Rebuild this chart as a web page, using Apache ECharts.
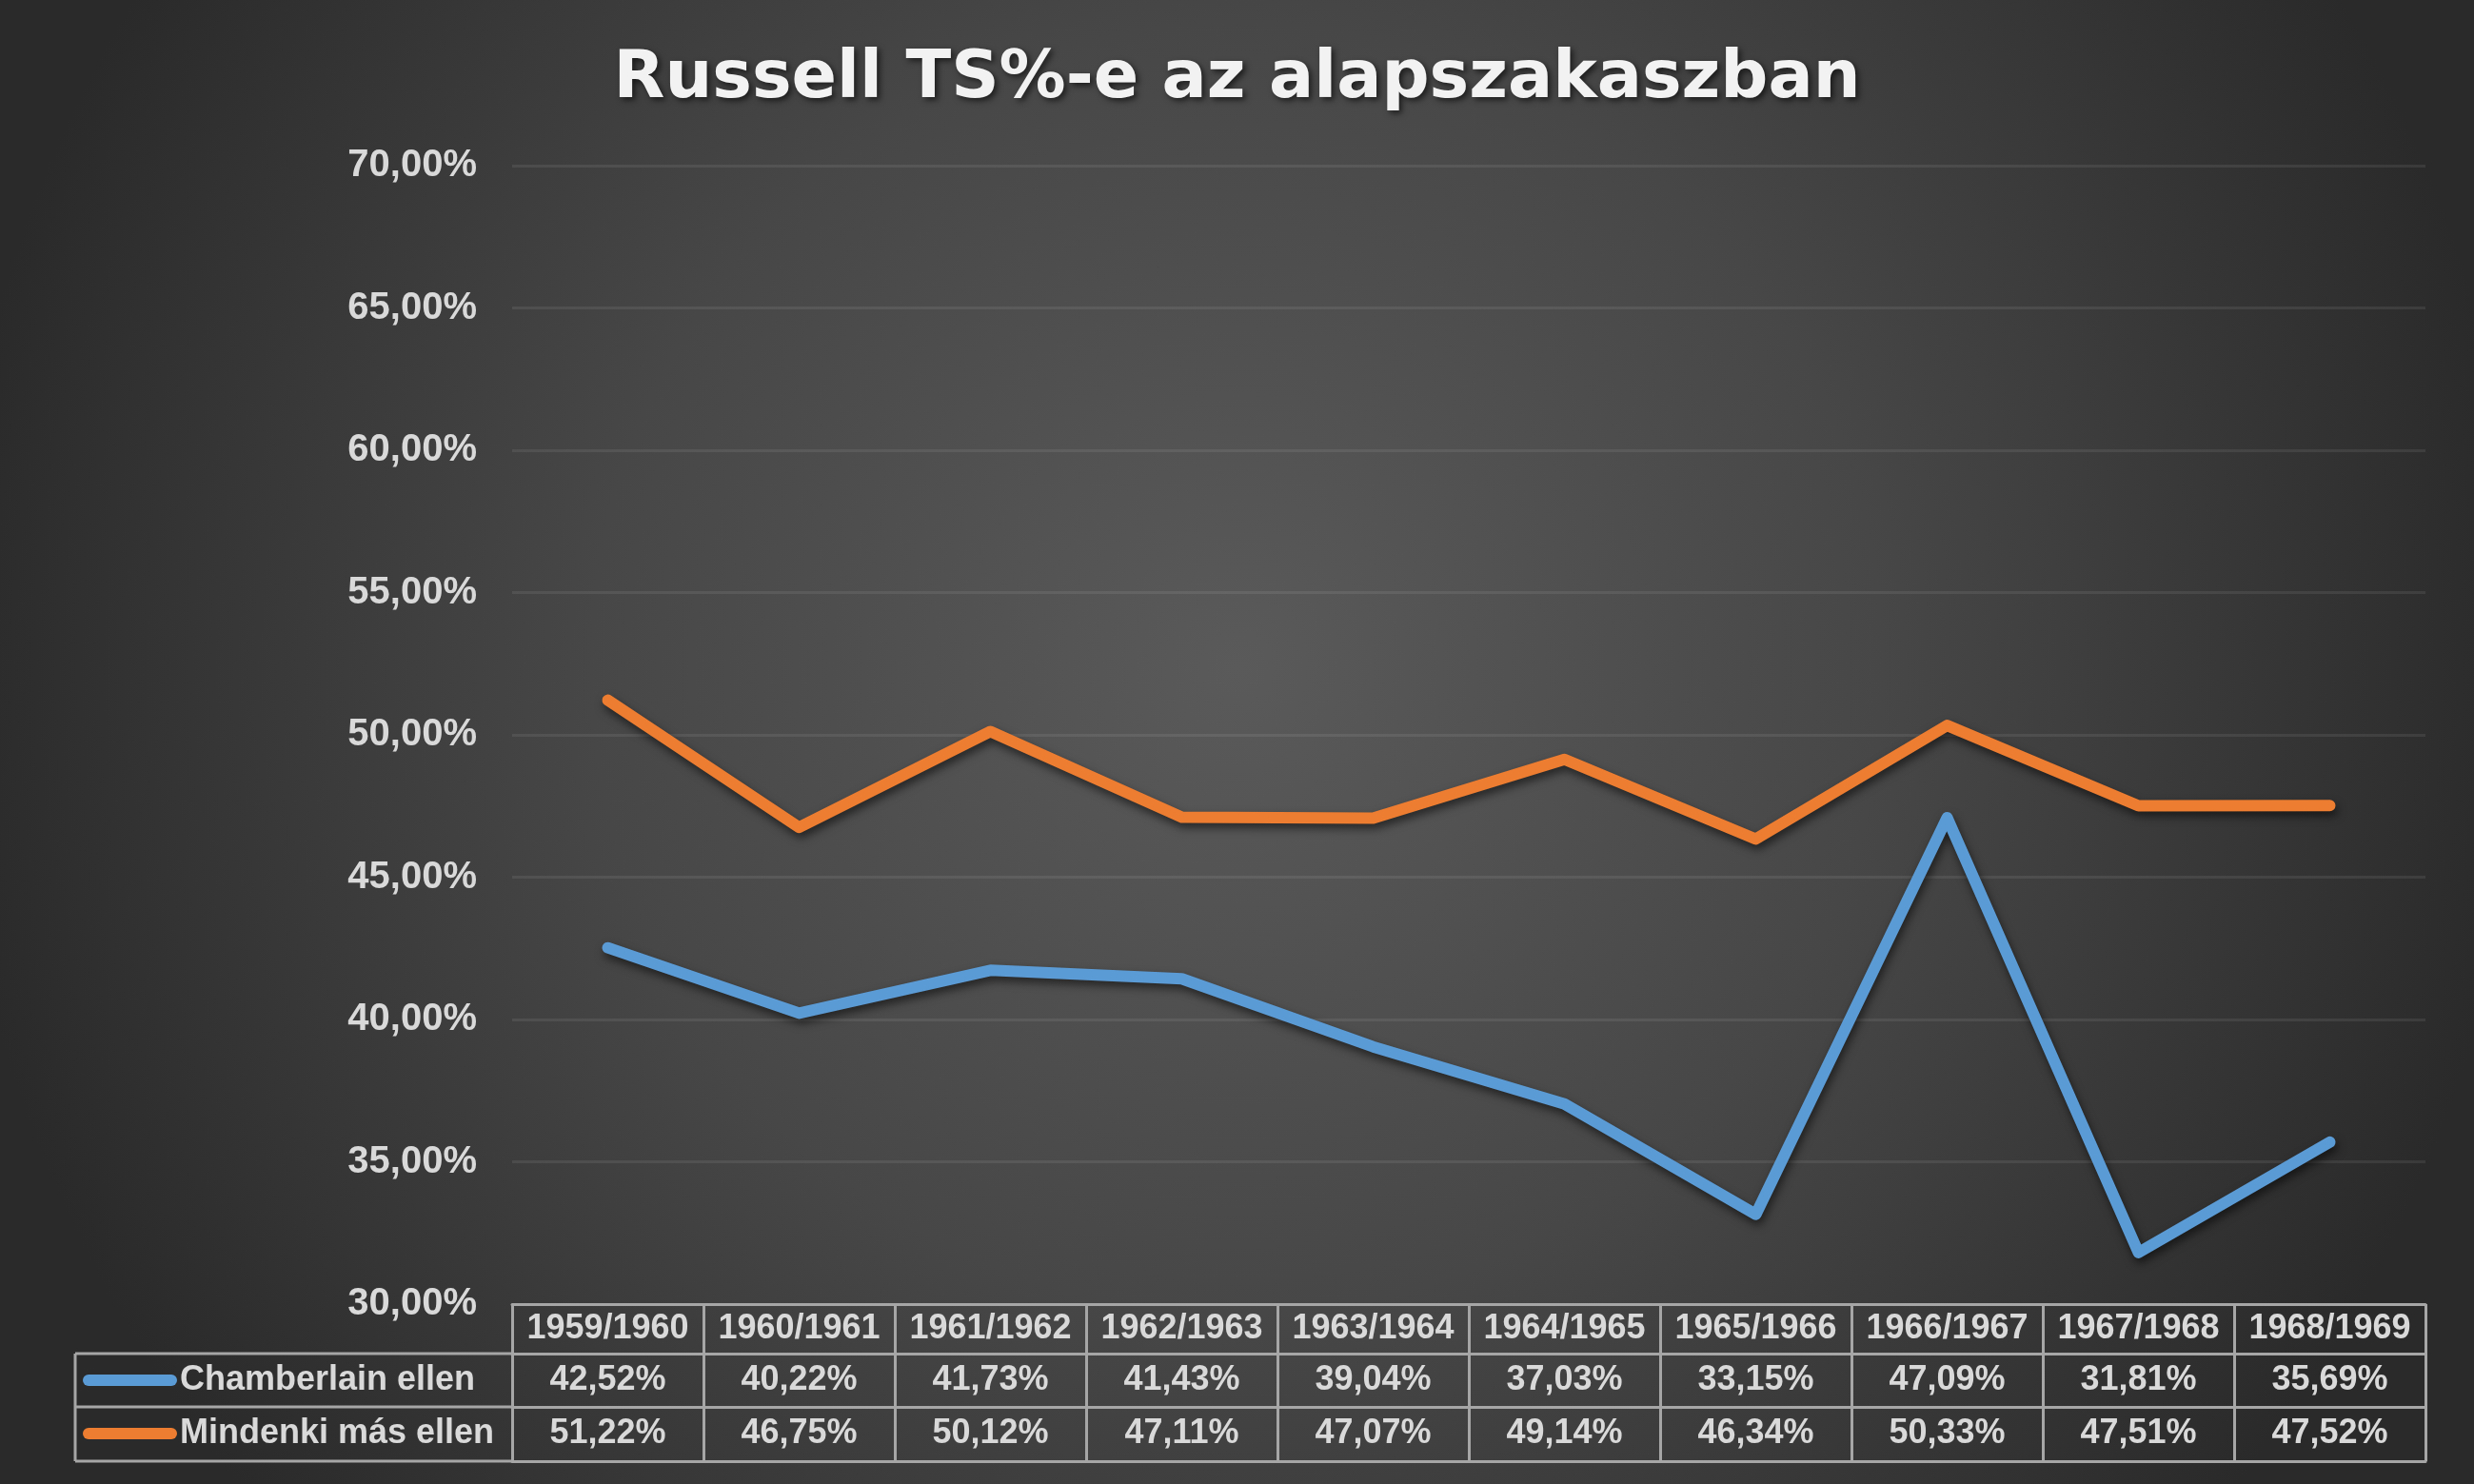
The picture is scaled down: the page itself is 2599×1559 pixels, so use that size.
<!DOCTYPE html>
<html>
<head>
<meta charset="utf-8">
<style>
  html, body { margin: 0; padding: 0; background: #2a2a2a; }
  #chart { width: 2599px; height: 1559px; }
</style>
<script src="https://cdn.jsdelivr.net/npm/echarts@6/dist/echarts.min.js"></script>
</head>
<body>
<div id="chart"></div>
<script>
// ---- Data ----
const seasons = ['1959/1960', '1960/1961', '1961/1962', '1962/1963', '1963/1964',
                 '1964/1965', '1965/1966', '1966/1967', '1967/1968', '1968/1969'];
const chamberlain = [42.52, 40.22, 41.73, 41.43, 39.04, 37.03, 33.15, 47.09, 31.81, 35.69];
const mindenki = [51.22, 46.75, 50.12, 47.11, 47.07, 49.14, 46.34, 50.33, 47.51, 47.52];
const seriesNames = ['Chamberlain ellen', 'Mindenki más ellen'];
const yTicks = { min: 30, max: 70, interval: 5 };
const titleText = 'Russell TS%-e az alapszakaszban';

// ---- Layout / style ----
const W = 2599, H = 1559;
const GRID = { left: 538, right: 51, top: 174, bottom: 189 };
const ROW_H = [52, 56, 57];           // header, row 1, row 2 heights
const TABLE_LEFT = 79;
const BORDER = '#a6a6a6';
const TEXT = '#d9d9d9';
const FONT = "'Liberation Sans', Arial, sans-serif";
const COLORS = ['#5b9bd5', '#ed7d31'];

const fmtPct = v => v.toFixed(2).replace('.', ',') + '%';

const axisY0 = H - GRID.bottom;                  // x-axis line (table top)
const rowY = [axisY0, axisY0 + ROW_H[0], axisY0 + ROW_H[0] + ROW_H[1],
              axisY0 + ROW_H[0] + ROW_H[1] + ROW_H[2]];
const tableHeight = ROW_H[0] + ROW_H[1] + ROW_H[2];

const labelStyle = {
  interval: 0, fontSize: 36, fontWeight: 'bold', color: TEXT, fontFamily: FONT,
  verticalAlign: 'middle'
};

function tableAxis(offset, rowHeight, formatter, withTicks, showLabel) {
  return {
    type: 'category',
    data: seasons,
    position: 'bottom',
    offset: offset,
    boundaryGap: true,
    axisLine: { show: true, lineStyle: { color: BORDER, width: 3 } },
    axisTick: withTicks
      ? { show: true, interval: 0, length: tableHeight, inside: false, lineStyle: { color: BORDER, width: 3 } }
      : { show: false },
    axisLabel: Object.assign({}, labelStyle, { show: showLabel, margin: rowHeight / 2, formatter: formatter }),
    splitLine: { show: false }
  };
}

const chart = echarts.init(document.getElementById('chart'), null, { renderer: 'canvas', width: W, height: H });

const lineShadow = { shadowColor: 'rgba(0,0,0,0.55)', shadowBlur: 10, shadowOffsetX: 2, shadowOffsetY: 5 };

const option = {
  animation: false,
  backgroundColor: {
    type: 'radial', x: 0.5, y: 0.45, r: 0.87,
    colorStops: [
      { offset: 0, color: '#5a5a5a' },
      { offset: 0.5, color: '#474747' },
      { offset: 1, color: '#2a2a2a' }
    ]
  },
  title: {
    text: titleText,
    left: 'center',
    top: 44,
    textStyle: {
      fontFamily: "'DejaVu Sans', sans-serif",
      fontSize: 70,
      fontWeight: 'bold',
      color: '#f2f2f2',
      textShadowColor: 'rgba(0,0,0,0.6)',
      textShadowBlur: 6,
      textShadowOffsetX: 3,
      textShadowOffsetY: 3
    }
  },
  grid: { left: GRID.left, right: GRID.right, top: GRID.top, bottom: GRID.bottom, containLabel: false },
  legend: {
    orient: 'vertical',
    left: 87,
    top: rowY[1] + ROW_H[1] / 2 - 20,
    padding: 0,
    itemGap: 16,
    itemWidth: 99,
    itemHeight: 12,
    icon: 'path://M6,0 L93,0 A6,6 0 0 1 93,12 L6,12 A6,6 0 0 1 6,0 Z',
    data: seriesNames,
    textStyle: { fontSize: 36, fontWeight: 'bold', color: TEXT, fontFamily: FONT, lineHeight: 40, padding: [0, 0, 0, -2] },
    selectedMode: false
  },
  xAxis: [
    tableAxis(0, ROW_H[0], v => v, true, true),
    tableAxis(ROW_H[0], ROW_H[1], (v, i) => fmtPct(chamberlain[i]), false, true),
    tableAxis(ROW_H[0] + ROW_H[1], ROW_H[2], (v, i) => fmtPct(mindenki[i]), false, true),
    tableAxis(tableHeight, 10, () => '', false, false)
  ],
  yAxis: {
    type: 'value',
    min: yTicks.min,
    max: yTicks.max,
    interval: yTicks.interval,
    axisLine: { show: false },
    axisTick: { show: false },
    axisLabel: {
      margin: 37, fontSize: 40, fontWeight: 'bold', color: TEXT, fontFamily: FONT,
      formatter: v => fmtPct(v)
    },
    splitLine: { lineStyle: { color: 'rgba(255,255,255,0.08)', width: 3 } }
  },
  series: [
    {
      name: seriesNames[0], type: 'line', data: chamberlain, xAxisIndex: 0,
      symbol: 'none', smooth: false, color: COLORS[0],
      lineStyle: Object.assign({ width: 12, color: COLORS[0], cap: 'round', join: 'round' }, lineShadow),
      z: 3
    },
    {
      name: seriesNames[1], type: 'line', data: mindenki, xAxisIndex: 0,
      symbol: 'none', smooth: false, color: COLORS[1],
      lineStyle: Object.assign({ width: 12, color: COLORS[1], cap: 'round', join: 'round' }, lineShadow),
      z: 3
    }
  ],
  graphic: [
    // legend column of the data table (rules only)
    { type: 'line', shape: { x1: TABLE_LEFT, y1: rowY[1], x2: GRID.left, y2: rowY[1] }, style: { stroke: BORDER, lineWidth: 3 } },
    { type: 'line', shape: { x1: TABLE_LEFT, y1: rowY[2], x2: GRID.left, y2: rowY[2] }, style: { stroke: BORDER, lineWidth: 3 } },
    { type: 'line', shape: { x1: TABLE_LEFT, y1: rowY[3], x2: GRID.left, y2: rowY[3] }, style: { stroke: BORDER, lineWidth: 3 } },
    { type: 'line', shape: { x1: TABLE_LEFT, y1: rowY[1], x2: TABLE_LEFT, y2: rowY[3] }, style: { stroke: BORDER, lineWidth: 3 } }
  ]
};

chart.setOption(option);
</script>
</body>
</html>
